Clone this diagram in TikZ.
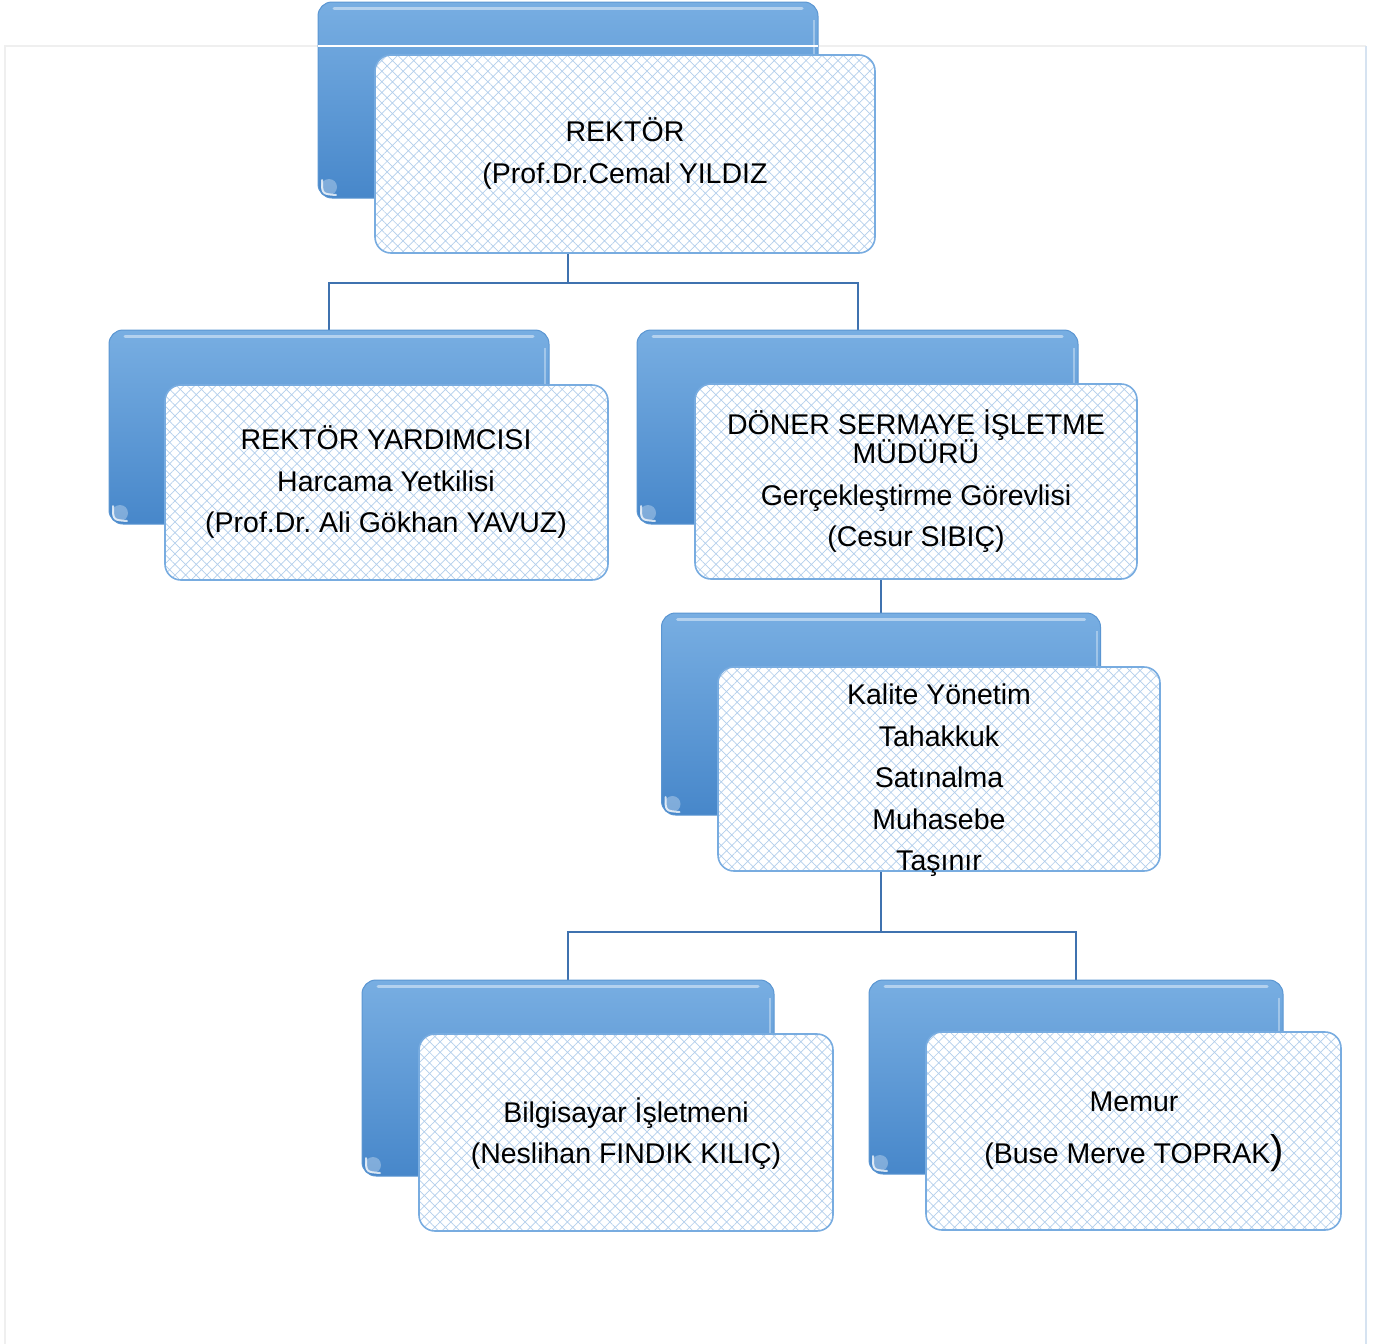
\documentclass[tikz,border=0pt]{standalone}
\usepackage{fontspec}
\setmainfont{Liberation Sans}
\usetikzlibrary{patterns.meta,calc,backgrounds}
\frenchspacing
\definecolor{linec}{HTML}{3F72AF}
\definecolor{backtop}{HTML}{78AEE2}
\definecolor{backbot}{HTML}{4787CA}
\definecolor{backedge}{HTML}{5B96D2}
\definecolor{frontborder}{HTML}{78ACE0}
\definecolor{hatchc}{HTML}{B3CFEC}
\definecolor{pagegrey}{HTML}{EFEFEF}
\definecolor{pageblue}{HTML}{D6E3F1}
\tikzset{
  backbox/.style 2 args={rectangle, rounded corners=14pt, minimum width=#1, minimum height=#2,
    inner sep=0pt, outer sep=0pt, top color=backtop, bottom color=backbot, draw=backedge, line width=1pt},
  frontbox/.style 2 args={rectangle, rounded corners=16pt, minimum width=#1, minimum height=#2,
    inner sep=0pt, outer sep=0pt, preaction={fill=white}, draw=frontborder, line width=1.6pt,
    pattern={Hatch[angle=45,distance=7.5pt,line width=0.7pt]}, pattern color=hatchc},
  boxtext/.style={align=center, inner sep=0pt, font=\fontsize{28.5}{41.5}\selectfont},
  conn/.style={draw=linec, line width=2pt},
  shine/.style={white, opacity=0.45, line width=3pt, line cap=round},
}
\newcommand{\backshine}[1]{%
  \draw[shine] ($(#1.north west)+(16,6)$) -- ($(#1.north east)+(-16,6)$);
  \draw[white, opacity=0.35, line width=2pt] ($(#1.north east)+(-4,18)$) -- ($(#1.south east)+(-4,-18)$);
  \fill[white, opacity=0.3] ($(#1.south west)+(11,-11)$) circle[radius=8pt];
  \draw[white, opacity=0.75, line width=2pt, line cap=round] ($(#1.south west)+(4,-18)$) .. controls ($(#1.south west)+(4,-4)$) .. ($(#1.south west)+(18,-3)$);
}
\begin{document}
\begin{tikzpicture}[x=1pt,y=-1pt]
\useasboundingbox (0,0) rectangle (1385,1344);

% back boxes
\node[backbox={500pt}{196pt}] (b1) at (568,100) {};
\node[backbox={440pt}{194pt}] (b2) at (329,427) {};
\node[backbox={441pt}{194pt}] (b3) at (857.5,427) {};
\node[backbox={439pt}{202pt}] (b4) at (881,714) {};
\node[backbox={412pt}{196pt}] (b5) at (568,1078) {};
\node[backbox={414pt}{194pt}] (b6) at (1076,1077) {};

\foreach \b in {b1,b2,b3,b4,b5,b6} {\backshine{\b}}
\draw[white, line width=1.5pt] (b1.west |- 0,46) -- (b1.east |- 0,46);

% front boxes
\node[frontbox={500pt}{198pt}] (f1) at (625,154) {};
\node[frontbox={443pt}{195pt}] (f2) at (386.5,482.5) {};
\node[frontbox={442pt}{195pt}] (f3) at (916,481.5) {};
\node[frontbox={442pt}{204pt}] (f4) at (939,769) {};
\node[frontbox={414pt}{197pt}] (f5) at (626,1132.5) {};
\node[frontbox={415pt}{198pt}] (f6) at (1133.5,1131) {};

% texts
\node[boxtext] (t1) at (625,153.5) {REKTÖR\\(Prof.Dr.Cemal YILDIZ};
\node[boxtext] (t2) at (386,482.5) {REKTÖR YARDIMCISI\\Harcama Yetkilisi\\(Prof.Dr. Ali Gökhan YAVUZ)};
\node[boxtext] (t3) at (916,481.5) {DÖNER SERMAYE İŞLETME\\[-12.5pt]MÜDÜRÜ\\Gerçekleştirme Görevlisi\\(Cesur SIBIÇ)};
\node[boxtext] (t4) at (939,780.5) {Kalite Yönetim\\Tahakkuk\\Satınalma\\Muhasebe\\Taşınır};
\node[boxtext] (t5) at (626,1133.5) {Bilgisayar İşletmeni\\(Neslihan FINDIK KILIÇ)};
\node[boxtext] (t6) at (1134,1132) {Memur\\[10.5pt](Buse Merve TOPRAK{\fontsize{40}{40}\selectfont)}};

\begin{pgfonlayer}{background}
% page border
\draw[pagegrey, line width=1.5pt] (5,1344) -- (5,46) -- (1366,46);
\draw[pageblue, line width=1.5pt] (1366,46) -- (1366,1344);
% connectors (behind boxes)
\coordinate (bus1) at (b1.center |- 0,283);
\coordinate (bus2) at (b4.center |- 0,932);
\draw[conn] (b1.center) -- (bus1) -| (b2.north);
\draw[conn] (bus1) -| (b3.north);
\draw[conn] (b4.north |- f3.south) -- (bus2);
\draw[conn] (bus2) -| (b5.north);
\draw[conn] (bus2) -| (b6.north);
\end{pgfonlayer}
\end{tikzpicture}
\end{document}
